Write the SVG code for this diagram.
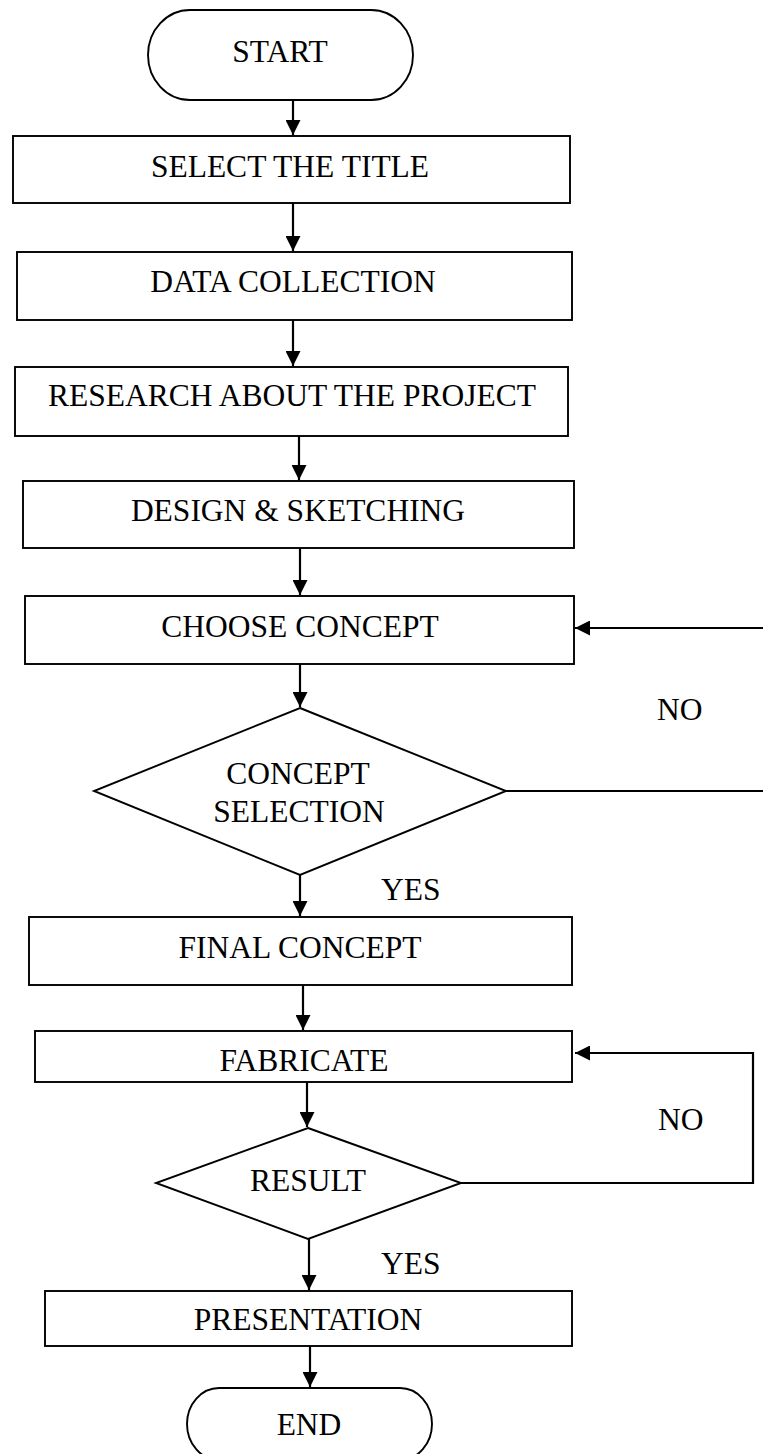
<svg xmlns="http://www.w3.org/2000/svg" width="763" height="1454" viewBox="0 0 763 1454">
<style>
.shape{fill:#fff;stroke:#000;stroke-width:1.9}
.con{fill:none;stroke:#000;stroke-width:2.2}
text{font-family:"Liberation Serif","Times New Roman",serif;font-size:31.5px;fill:#000}
.c{text-anchor:middle}
</style>
<defs>
<marker id="ah" viewBox="0 0 16 16" refX="16" refY="8" markerWidth="17" markerHeight="15" markerUnits="userSpaceOnUse" orient="auto">
<path d="M0,0 L16,8 L0,16 z" fill="#000"/>
</marker>
</defs>
<rect width="763" height="1454" fill="#fff"/>
<g id="start"><rect class="shape" x="148" y="10" width="265" height="90" rx="42" ry="45"/><text class="c" x="280" y="62">START</text></g>
<g id="select-title"><rect class="shape" x="13" y="136" width="557" height="67"/><text class="c" x="290" y="177">SELECT THE TITLE</text></g>
<g id="data-collection"><rect class="shape" x="17" y="252" width="555" height="68"/><text class="c" x="293" y="292">DATA COLLECTION</text></g>
<g id="research"><rect class="shape" x="15" y="367" width="553" height="69"/><text class="c" x="292" y="406">RESEARCH ABOUT THE PROJECT</text></g>
<g id="design"><rect class="shape" x="23" y="481" width="551" height="67"/><text class="c" x="298" y="521">DESIGN &amp; SKETCHING</text></g>
<g id="choose-concept"><rect class="shape" x="25" y="596" width="549" height="68"/><text class="c" x="300" y="637">CHOOSE CONCEPT</text></g>
<g id="concept-selection"><polygon class="shape" points="300,708 506,791 300,875 94,791"/><text class="c" x="298" y="784">CONCEPT</text><text class="c" x="299" y="822">SELECTION</text></g>
<g id="final-concept"><rect class="shape" x="29" y="917" width="543" height="68"/><text class="c" x="300" y="958">FINAL CONCEPT</text></g>
<g id="fabricate"><rect class="shape" x="35" y="1031" width="537" height="51"/><text class="c" x="304" y="1071">FABRICATE</text></g>
<g id="result"><polygon class="shape" points="308,1128 461,1183 308,1239 156,1183"/><text class="c" x="308" y="1191">RESULT</text></g>
<g id="presentation"><rect class="shape" x="45" y="1291" width="527" height="55"/><text class="c" x="308" y="1330">PRESENTATION</text></g>
<g id="end"><rect class="shape" x="187" y="1388" width="245" height="72" rx="32" ry="36"/><text class="c" x="309" y="1435">END</text></g>
<g id="connectors">
<line class="con" x1="293" y1="100" x2="293" y2="135" marker-end="url(#ah)"/>
<line class="con" x1="293" y1="203" x2="293" y2="251" marker-end="url(#ah)"/>
<line class="con" x1="293" y1="320" x2="293" y2="366" marker-end="url(#ah)"/>
<line class="con" x1="299" y1="436" x2="299" y2="480" marker-end="url(#ah)"/>
<line class="con" x1="300" y1="548" x2="300" y2="595" marker-end="url(#ah)"/>
<line class="con" x1="300" y1="664" x2="300" y2="707" marker-end="url(#ah)"/>
<line class="con" x1="763" y1="628" x2="575" y2="628" marker-end="url(#ah)"/>
<line class="con" x1="506" y1="791" x2="763" y2="791"/>
<line class="con" x1="300" y1="875" x2="300" y2="916" marker-end="url(#ah)"/>
<line class="con" x1="303" y1="985" x2="303" y2="1030" marker-end="url(#ah)"/>
<line class="con" x1="307" y1="1082" x2="307" y2="1127" marker-end="url(#ah)"/>
<polyline class="con" points="461,1183 753,1183 753,1053 575,1053" marker-end="url(#ah)"/>
<line class="con" x1="309" y1="1239" x2="309" y2="1290" marker-end="url(#ah)"/>
<line class="con" x1="310" y1="1346" x2="310" y2="1387" marker-end="url(#ah)"/>
<text x="657" y="720">NO</text>
<text x="381" y="900">YES</text>
<text x="658" y="1130">NO</text>
<text x="381" y="1274">YES</text>
</g>
</svg>
